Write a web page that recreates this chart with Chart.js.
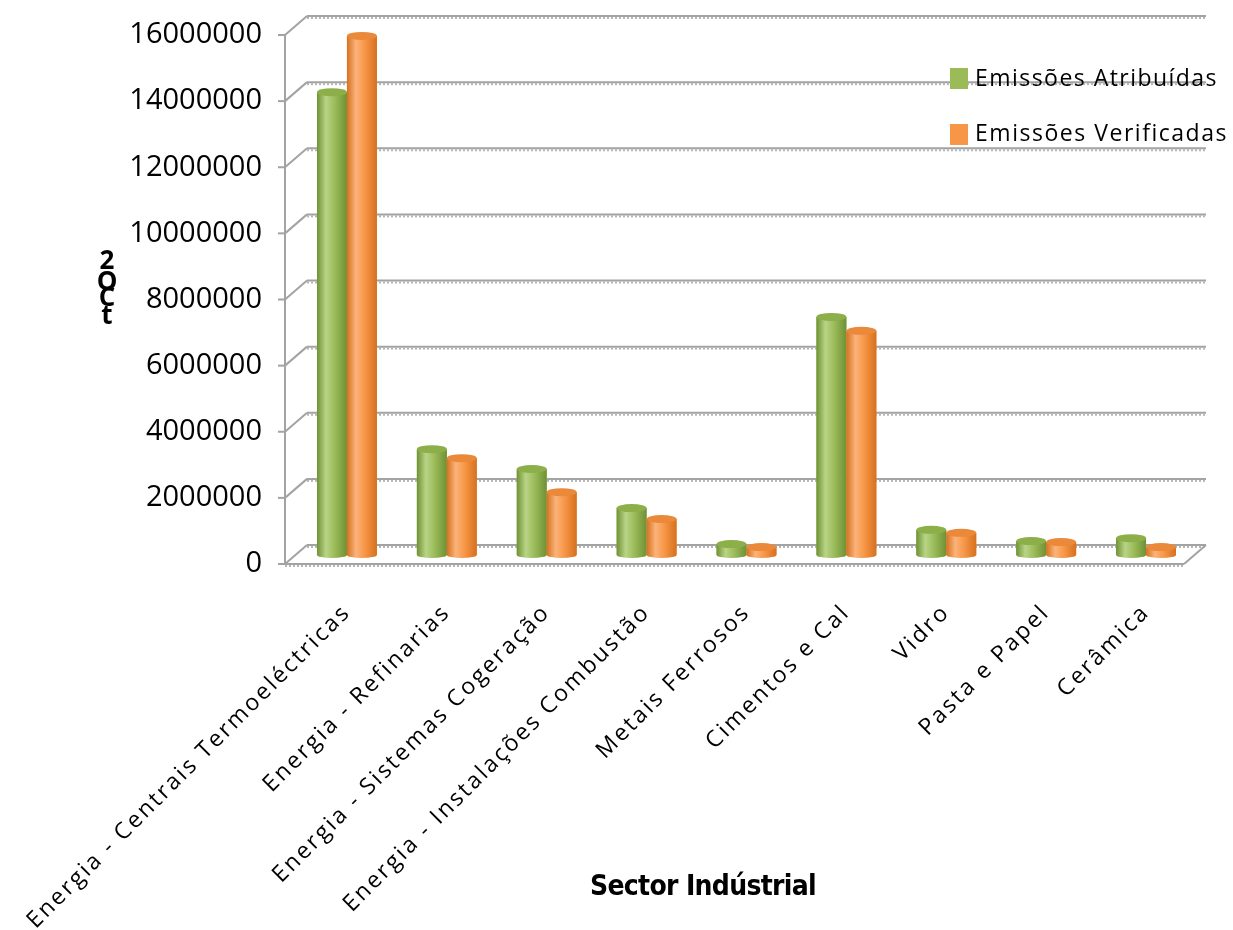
<!DOCTYPE html>
<html>
<head>
<meta charset="utf-8">
<script src="https://cdn.jsdelivr.net/npm/chart.js@4.4.0/dist/chart.umd.min.js"></script>
<style>
  body { margin: 0; background: #fff; }
  #wrap { width: 1233px; height: 930px; }
</style>
</head>
<body>
<div id="wrap"><canvas id="myChart" width="1233" height="930"></canvas></div>
<script>
// data
const sectors = [
  'Energia - Centrais Termoeléctricas',
  'Energia - Refinarias',
  'Energia - Sistemas Cogeração',
  'Energia - Instalações Combustão',
  'Metais Ferrosos',
  'Cimentos e Cal',
  'Vidro',
  'Pasta e Papel',
  'Cerâmica'
];
const atribuidas = [14000000, 3200000, 2600000, 1420000, 330000, 7200000, 760000, 420000, 510000];
const verificadas = [15700000, 2930000, 1900000, 1090000, 240000, 6780000, 670000, 390000, 240000];
const yTicks = [0, 2000000, 4000000, 6000000, 8000000, 10000000, 12000000, 14000000, 16000000];
const legendLabels = ['Emissões Atribuídas', 'Emissões Verificadas'];
const xTitle = 'Sector Indústrial';
const yTitle = 'tCO2';

const GREEN = { base: '#9bbb59', dark: '#6f9134', light: '#b8d486', cap: '#8caf4a' };
const ORANGE = { base: '#f79646', dark: '#d5711f', light: '#fbb37a', cap: '#ea893a' };

// helper: draw text stretched to a given width with letter spacing
let fitText = (ctx, text, x, y, width) => {
  ctx.letterSpacing = '0px';
  let w = ctx.measureText(text).width;
  let sp = (width - w) / text.length;
  ctx.letterSpacing = sp + 'px';
  ctx.fillText(text, x, y);
  ctx.letterSpacing = '0px';
}

let hLine = (ctx, x1, y1, x2, y2) => {
  ctx.strokeStyle = '#a3a3a3';
  ctx.lineWidth = 2;
  ctx.setLineDash([]);
  ctx.beginPath(); ctx.moveTo(x1, y1); ctx.lineTo(x2, y2); ctx.stroke();
  ctx.strokeStyle = '#b5b5b5';
  ctx.setLineDash([2, 2]);
  ctx.beginPath(); ctx.moveTo(x1, y1 + 2); ctx.lineTo(x2, y2 + 2); ctx.stroke();
  ctx.setLineDash([]);
}

let line = (ctx, x1, y1, x2, y2) => {
  ctx.strokeStyle = '#a3a3a3';
  ctx.lineWidth = 2;
  ctx.beginPath(); ctx.moveTo(x1, y1); ctx.lineTo(x2, y2); ctx.stroke();
}

// fake 3d walls, cylinder shading, legend, titles
const frame3d = {
  id: 'frame3d',
  beforeDatasetsDraw(chart) {
    const { ctx, chartArea: a, scales: { y } } = chart;
    const fx = a.left - 12, bx = a.left + 10, fxr = a.right - 12, bxr = a.right + 10;
    ctx.save();
    yTicks.forEach(v => {
      const p = y.getPixelForValue(v);
      hLine(ctx, bx, p - 10, bxr, p - 10);
      line(ctx, fx, p + 9, bx, p - 10);
      line(ctx, fx - 7, p + 9, fx, p + 9);
    });
    const p0 = y.getPixelForValue(0), pt = y.getPixelForValue(yTicks[yTicks.length - 1]);
    line(ctx, fx, pt + 9, fx, p0 + 9);
    hLine(ctx, fx, p0 + 9, fxr, p0 + 9);
    line(ctx, fxr, p0 + 9, bxr, p0 - 10);
    ctx.restore();
  },
  afterDatasetsDraw(chart) {
    const { ctx } = chart;
    ctx.save();
    chart.data.datasets.forEach((ds, i) => {
      const c = i === 0 ? GREEN : ORANGE;
      chart.getDatasetMeta(i).data.forEach(el => {
        const l = el.x - el.width / 2;
        const g = ctx.createLinearGradient(l, 0, l + el.width, 0);
        g.addColorStop(0, c.dark);
        g.addColorStop(0.3, c.light);
        g.addColorStop(0.6, c.base);
        g.addColorStop(1, c.dark);
        ctx.fillStyle = g;
        ctx.fillRect(l, el.y, el.width, el.base - el.y);
        ctx.beginPath();
        ctx.ellipse(el.x, el.base, el.width / 2, 3, 0, 0, Math.PI);
        ctx.fill();
        ctx.beginPath();
        ctx.ellipse(el.x, el.y, el.width / 2, 4, 0, 0, 2 * Math.PI);
        ctx.fillStyle = c.cap;
        ctx.fill();
      });
    });
    ctx.restore();
  },
  afterDraw(chart) {
    const { ctx } = chart;
    ctx.save();
    // legend
    ctx.fillStyle = GREEN.base;
    ctx.fillRect(950, 68, 18, 21);
    ctx.fillStyle = ORANGE.base;
    ctx.fillRect(950, 124, 18, 21);
    ctx.fillStyle = '#000';
    ctx.font = '23px "Open Sans"';
    ctx.textBaseline = 'middle';
    ctx.textAlign = 'left';
    fitText(ctx, legendLabels[0], 975, 79, 243);
    fitText(ctx, legendLabels[1], 975, 134, 253);
    // x title
    ctx.font = 'bold 28px "Liberation Sans Narrow", "DejaVu Sans Condensed", "Open Sans"';
    fitText(ctx, xTitle, 590, 888, 226);
    // y title, letters stacked bottom-up
    ctx.font = 'bold 26px "Open Sans"';
    ctx.textAlign = 'center';
    const ys = [317, 299, 283, 262];
    yTitle.split('').forEach((ch, i) => ctx.fillText(ch, 107, ys[i]));
    ctx.restore();
  }
}

const ctx = document.getElementById('myChart').getContext('2d');
const myChart = new Chart(ctx, {
  type: 'bar',
  data: {
    labels: sectors,
    datasets: [
      { label: legendLabels[0], data: atribuidas, backgroundColor: GREEN.base, borderWidth: 0 },
      { label: legendLabels[1], data: verificadas, backgroundColor: ORANGE.base, borderWidth: 0 }
    ]
  },
  options: {
    responsive: false,
    animation: false,
    devicePixelRatio: 1,
    layout: { padding: { top: 26, right: 37, left: 0, bottom: 0 } },
    datasets: { bar: { categoryPercentage: 0.6, barPercentage: 1 } },
    plugins: { legend: { display: false }, tooltip: { enabled: false } },
    scales: {
      x: {
        grid: { display: false, drawTicks: false },
        border: { display: false },
        ticks: {
          autoSkip: false, minRotation: 45, maxRotation: 45, padding: 44,
          color: '#000', font: { family: 'Open Sans', size: 23 }
        },
        afterFit(s) {
          s.height = 375; s.paddingLeft = 0; s.paddingRight = 0;
          // wider letter spacing on the category labels
          if (!s.spaced) {
            const orig = s.drawLabels;
            s.drawLabels = function (area) {
              this.ctx.save();
              this.ctx.letterSpacing = '2.4px';
              orig.call(this, area);
              this.ctx.restore();
            };
            s.spaced = true;
          }
        }
      },
      y: {
        min: 0, max: 16000000,
        grid: { display: false, drawTicks: false },
        border: { display: false },
        afterBuildTicks(s) { s.ticks = yTicks.map(v => ({ value: v })); },
        ticks: {
          padding: 35, labelOffset: 9, color: '#000',
          font: { family: 'Open Sans', size: 29 },
          callback: v => String(v)
        },
        afterFit(s) { s.width = 297; s.paddingTop = 0; s.paddingBottom = 0; }
      }
    }
  },
  plugins: [frame3d]
});
</script>
</body>
</html>
